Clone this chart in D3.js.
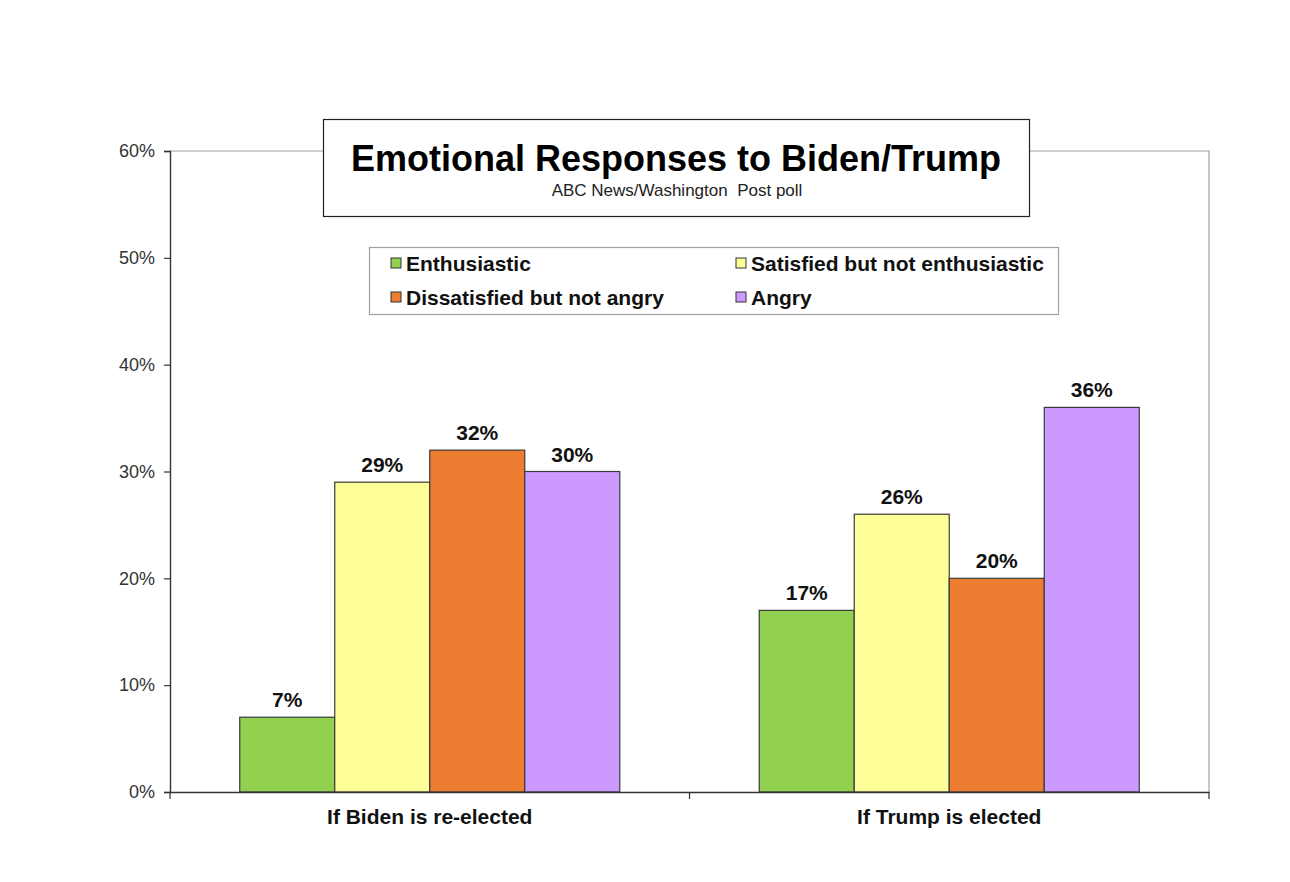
<!DOCTYPE html>
<html><head><meta charset="utf-8">
<script src="https://cdn.jsdelivr.net/npm/d3@7"></script>
<style>body{margin:0;background:#fff;font-family:Arial,"Liberation Sans",sans-serif;}</style>
</head><body><svg id="c" width="1290" height="882"></svg>
<script>
const categories = ["If Biden is re-elected", "If Trump is elected"];
const seriesNames = ["Enthusiastic", "Satisfied but not enthusiastic", "Dissatisfied but not angry", "Angry"];
const seriesValues = [
  [7, 17],
  [29, 26],
  [32, 20],
  [30, 36]
];
const seriesColors = ["#92D050", "#FFFF99", "#ED7D31", "#CC99FF"];
const yTicks = [0, 10, 20, 30, 40, 50, 60];
const title = "Emotional Responses to Biden/Trump";
const subtitle = "ABC News/Washington  Post poll";

const svg = d3.select("#c");
const F = "Arial,'Liberation Sans',sans-serif";
const L = 170, R = 1209, T = 151, B = 792;
const x0 = d3.scaleBand().domain(categories).range([L, R]).paddingInner(0).paddingOuter(0);
const x1 = d3.scaleBand().domain(d3.range(seriesNames.length)).range([0, x0.bandwidth()]).paddingInner(0).paddingOuter(0.734);
const y = d3.scaleLinear().domain([0, 60]).range([B, T]);

// plot border top/right
svg.append("path").attr("d", `M${L},${T}H${R}V${B}`).attr("fill", "none").attr("stroke", "#a0a0a0").attr("stroke-width", 1.2);

// bars
categories.forEach((c, ci) => {
  seriesNames.forEach((s, si) => {
    const v = seriesValues[si][ci];
    svg.append("rect")
      .attr("x", x0(c) + x1(si)).attr("y", y(v))
      .attr("width", x1.bandwidth()).attr("height", y(0) - y(v))
      .attr("fill", seriesColors[si]).attr("stroke", "#3a3a3a").attr("stroke-width", 1.2);
    svg.append("text")
      .attr("x", x0(c) + x1(si) + x1.bandwidth() / 2).attr("y", y(v) - 10)
      .attr("text-anchor", "middle").attr("font-size", 21).attr("font-weight", "bold").attr("fill", "#111")
      .text(v + "%");
  });
});

// y axis
const ya = svg.append("g").attr("transform", `translate(${L},0)`)
  .call(d3.axisLeft(y).tickValues(yTicks).tickSize(6).tickPadding(9).tickFormat(d => d + "%"));
ya.select(".domain").attr("stroke", "#333").attr("stroke-width", 1.4);
ya.selectAll(".tick line").attr("stroke", "#333").attr("stroke-width", 1.2);
ya.selectAll("text").attr("font-size", 18).attr("fill", "#333").attr("font-family", F);

// x axis
const xa = svg.append("g").attr("transform", `translate(0,${B})`)
  .call(d3.axisBottom(x0).tickSize(0).tickPadding(17));
xa.select(".domain").attr("stroke", "#333").attr("stroke-width", 1.4);
xa.selectAll("text").attr("font-size", 21).attr("font-weight", "bold").attr("fill", "#111").attr("font-family", F);
const sepTicks = [L].concat(categories.map(c => x0(c) + x0.bandwidth()));
sepTicks.forEach(t => svg.append("line").attr("x1", t).attr("x2", t).attr("y1", B).attr("y2", B + 7).attr("stroke", "#333").attr("stroke-width", 1.2));

// title box
svg.append("rect").attr("x", 323.5).attr("y", 119.5).attr("width", 706).attr("height", 97)
  .attr("fill", "#fff").attr("stroke", "#222").attr("stroke-width", 1.2);
svg.append("text").attr("x", 676).attr("y", 171).attr("text-anchor", "middle")
  .attr("font-size", 36).attr("font-weight", "bold").attr("fill", "#000").text(title);
svg.append("text").attr("x", 677).attr("y", 196).attr("text-anchor", "middle")
  .attr("font-size", 17).attr("fill", "#222").style("white-space", "pre").text(subtitle);

// legend
svg.append("rect").attr("x", 369.5).attr("y", 247.5).attr("width", 689).attr("height", 67)
  .attr("fill", "#fff").attr("stroke", "#a0a0a0").attr("stroke-width", 1.2);
const legPos = [[391, 263], [736, 263], [391, 297], [736, 297]];
seriesNames.forEach((s, i) => {
  const [lx, ly] = legPos[i];
  svg.append("rect").attr("x", lx).attr("y", ly - 5).attr("width", 10).attr("height", 10)
    .attr("fill", seriesColors[i]).attr("stroke", "#333").attr("stroke-width", 1);
  svg.append("text").attr("x", lx + 15).attr("y", ly + 7.5).attr("font-size", 21).attr("font-weight", "bold")
    .attr("fill", "#111").text(s);
});
</script></body></html>
